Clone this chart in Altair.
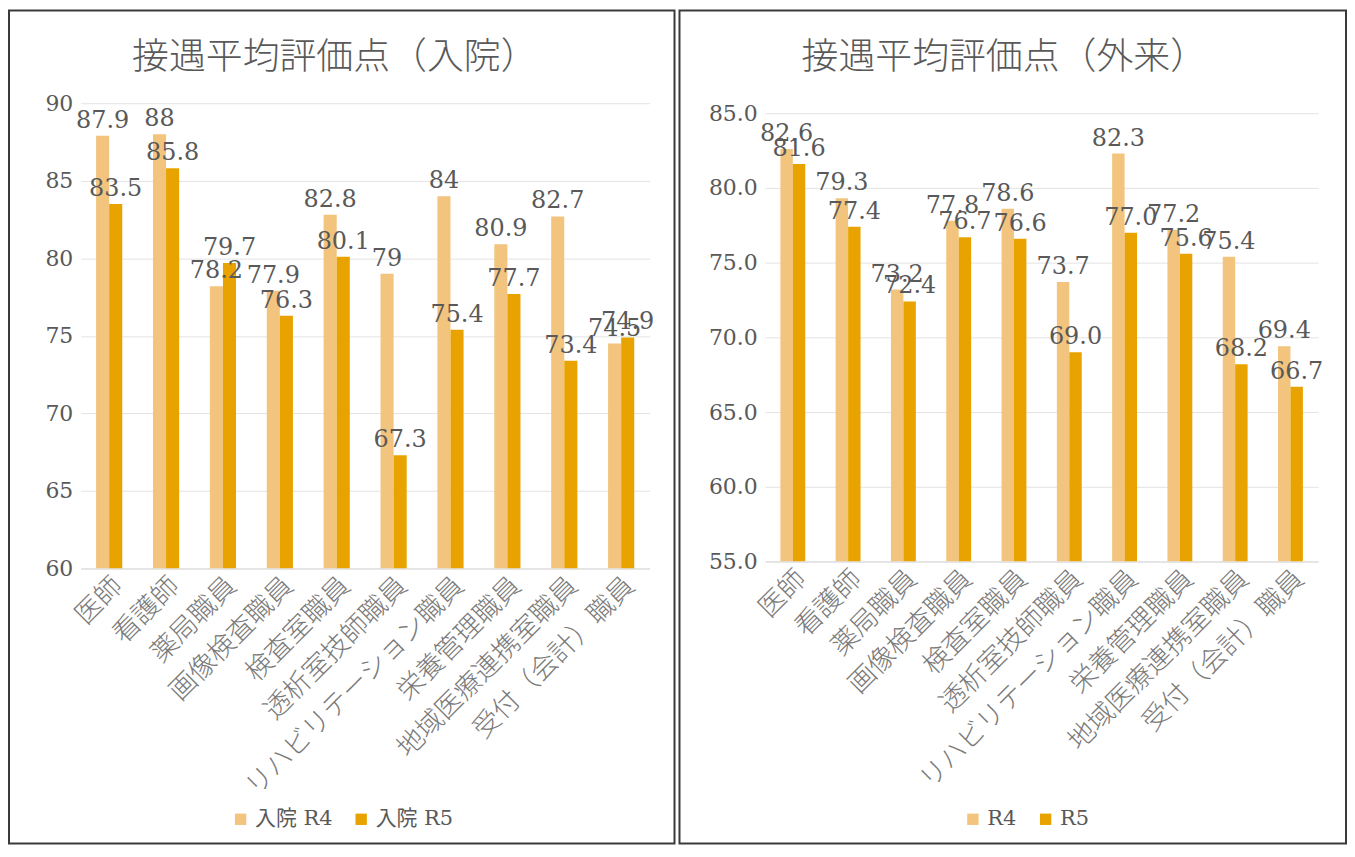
import altair as alt
import pandas as pd

categories = ["医師", "看護師", "薬局職員", "画像検査職員", "検査室職員", "透析室技師職員",
              "リハビリテーション職員", "栄養管理職員", "地域医療連携室職員", "受付（会計）職員"]
in_r4 = [87.9, 88, 78.2, 77.9, 82.8, 79, 84, 80.9, 82.7, 74.5]
in_r5 = [83.5, 85.8, 79.7, 76.3, 80.1, 67.3, 75.4, 77.7, 73.4, 74.9]
out_r4 = [82.6, 79.3, 73.2, 77.8, 78.6, 73.7, 82.3, 77.2, 75.4, 69.4]
out_r5 = [81.6, 77.4, 72.4, 76.7, 76.6, 69.0, 77.0, 75.6, 68.2, 66.7]
in_series = ["入院 R4", "入院 R5"]
out_series = ["R4", "R5"]
in_title = "接遇平均評価点（入院）"
out_title = "接遇平均評価点（外来）"
in_ticks = [60, 65, 70, 75, 80, 85, 90]
out_ticks = [55, 60, 65, 70, 75, 80, 85]

C4 = "#F2C47E"
C5 = "#E8A300"
GREY = "#595959"
SERIF = "DejaVu Serif, Noto Sans CJK JP"
CJK = "Noto Sans CJK JP"

TOP = 93
BOTTOM = 743


def panel(s1, s2, names, title, ticks, yfmt, lblfmt, W, H, yrange, lext, rext,
          title_x, legend_x, pad_inner):
    df = pd.DataFrame({
        "cat": categories * 2,
        "series": [names[0]] * len(categories) + [names[1]] * len(categories),
        "value": s1 + s2,
    })
    df["label"] = [format(v, lblfmt) for v in df["value"]]

    x = alt.X("cat:N", sort=categories, title=None,
              scale=alt.Scale(paddingInner=pad_inner, paddingOuter=pad_inner / 2),
              axis=alt.Axis(labelAngle=-45, labelFont=SERIF, labelFontSize=27, labelColor="#7a7a7a",
                            labelFontWeight=300, labelLimit=400, ticks=False,
                            domainColor="#d9d9d9", labelPadding=4, grid=False))
    xo = alt.XOffset("series:N", sort=names, scale=alt.Scale(paddingInner=0, paddingOuter=0))
    y = alt.Y("value:Q", title=None,
              scale=alt.Scale(domain=[ticks[0], ticks[-1]], nice=False, zero=False, range=yrange),
              axis=alt.Axis(values=ticks, format=yfmt, labelFont="DejaVu Serif", labelFontSize=22,
                            labelColor=GREY, domain=False, ticks=False, gridColor="#e3e3e3",
                            labelPadding=8))
    color = alt.Color("series:N", sort=names,
                      scale=alt.Scale(domain=names, range=[C4, C5]),
                      legend=alt.Legend(title=None, orient="none", legendX=legend_x,
                                        legendY=708,
                                        direction="horizontal", symbolType="square", symbolSize=130,
                                        symbolStrokeWidth=0, labelFont=SERIF, labelFontSize=21,
                                        labelColor=GREY, columnPadding=18, symbolOffset=0))

    bars = alt.Chart(df).mark_bar(clip=True).encode(
        x=x, xOffset=xo, y=y, y2=alt.Y2(datum=ticks[0]), color=color)
    text = alt.Chart(df).mark_text(baseline="bottom", dy=-3, font="DejaVu Serif", fontSize=24,
                                   color=GREY).encode(x=x, xOffset=xo, y=y, text="label:N")
    tdf = pd.DataFrame({"t": [title]})
    ttl = alt.Chart(tdf).mark_text(font=CJK, fontSize=37, fontWeight=300, color=GREY,
                                   baseline="middle", align="center").encode(
        x=alt.value(title_x), y=alt.value(-45), text="t:N")
    border = alt.Chart(tdf).mark_rect(fill="white", fillOpacity=0, stroke="#3a3a3a",
                                      strokeWidth=2).encode(
        x=alt.value(-lext), x2=alt.value(W + rext), y=alt.value(-TOP), y2=alt.value(BOTTOM))
    return alt.layer(border, bars, text, ttl).properties(width=W, height=H)


left = panel(in_r4, in_r5, in_series, in_title, in_ticks, "d", "g",
             571, 467, [467, 0], 72, 25, 255, 150, 0.54)
right = panel(out_r4, out_r5, out_series, out_title, out_ticks, ".1f", ".1f",
              555, 460, [460, 10], 86, 28, 240, 198, 0.55)

chart = alt.hconcat(left, right, spacing=3).resolve_scale(
    x="independent", y="independent", xOffset="independent", color="independent"
).properties(
    padding={"top": 0, "left": 0, "right": 0, "bottom": 0}
).configure_view(stroke=None)

chart.save("out.html", embed_options={"renderer": "svg", "actions": False})
